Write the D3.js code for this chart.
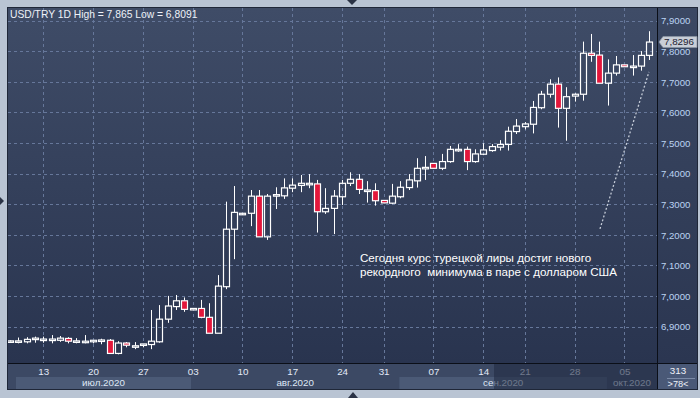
<!DOCTYPE html>
<html><head><meta charset="utf-8">
<script src="https://cdn.jsdelivr.net/npm/d3@7"></script>
<style>html,body{margin:0;padding:0;background:#b9c4d3;} svg{display:block;}</style>
</head><body><svg id="c" width="700" height="398"></svg>
<script>
// ---------- DATA ----------
const dates = ["2020-07-08","2020-07-09","2020-07-10","2020-07-12","2020-07-13","2020-07-14","2020-07-15","2020-07-16","2020-07-17","2020-07-19",
"2020-07-20","2020-07-21","2020-07-22","2020-07-23","2020-07-24","2020-07-26","2020-07-27","2020-07-28","2020-07-29","2020-07-30",
"2020-07-31","2020-08-02","2020-08-03","2020-08-04","2020-08-05","2020-08-06","2020-08-07","2020-08-09","2020-08-10","2020-08-11",
"2020-08-12","2020-08-13","2020-08-14","2020-08-16","2020-08-17","2020-08-18","2020-08-19","2020-08-20","2020-08-21","2020-08-23",
"2020-08-24","2020-08-25","2020-08-26","2020-08-27","2020-08-28","2020-08-31","2020-09-01","2020-09-02","2020-09-03","2020-09-04",
"2020-09-06","2020-09-07","2020-09-08","2020-09-09","2020-09-10","2020-09-11","2020-09-13","2020-09-14","2020-09-15","2020-09-16",
"2020-09-17","2020-09-18","2020-09-21","2020-09-22","2020-09-23","2020-09-24","2020-09-25","2020-09-27","2020-09-28","2020-09-29",
"2020-09-30","2020-10-01","2020-10-02","2020-10-04","2020-10-05","2020-10-06","2020-10-07","2020-10-08"];
const open  = [6.853,6.853,6.850,6.858,6.854,6.854,6.855,6.861,6.853,6.852,
6.850,6.856,6.855,6.812,6.846,6.837,6.839,6.841,6.850,6.924,
6.965,6.984,6.956,6.959,6.930,6.878,7.030,7.218,7.270,7.270,
7.326,7.193,7.326,7.327,7.352,7.361,7.363,7.366,7.275,7.286,
7.324,7.368,7.381,7.346,7.344,7.312,7.303,7.324,7.354,7.376,
7.416,7.433,7.417,7.439,7.475,7.479,7.439,7.463,7.475,7.486,
7.495,7.537,7.553,7.561,7.615,7.659,7.692,7.613,7.653,7.659,
7.793,7.787,7.695,7.728,7.755,7.748,7.751,7.786];
const high  = [6.855,6.864,6.865,6.867,6.867,6.872,6.869,6.865,6.862,6.872,
6.855,6.860,6.859,6.852,6.849,6.849,6.843,6.954,6.970,7.000,
7.003,6.995,6.959,6.987,6.976,7.068,7.308,7.359,7.271,7.346,
7.346,7.333,7.355,7.384,7.384,7.395,7.398,7.379,7.352,7.346,
7.379,7.404,7.398,7.375,7.368,7.313,7.366,7.375,7.398,7.450,
7.457,7.434,7.464,7.490,7.496,7.488,7.479,7.499,7.496,7.509,
7.553,7.578,7.568,7.637,7.670,7.708,7.714,7.682,7.662,7.831,
7.856,7.831,7.773,7.784,7.756,7.787,7.800,7.865];
const low   = [6.851,6.845,6.845,6.847,6.847,6.845,6.850,6.845,6.845,6.845,
6.845,6.842,6.810,6.8091,6.832,6.826,6.832,6.826,6.847,6.912,
6.954,6.948,6.954,6.927,6.878,6.878,7.022,7.120,7.269,7.228,
7.193,7.183,7.284,7.317,7.339,7.339,7.352,7.207,7.268,7.202,
7.297,7.359,7.333,7.305,7.295,7.303,7.300,7.319,7.346,7.354,
7.379,7.416,7.411,7.435,7.471,7.411,7.435,7.460,7.471,7.475,
7.475,7.529,7.544,7.531,7.610,7.648,7.550,7.507,7.635,7.638,
7.765,7.695,7.622,7.720,7.748,7.720,7.736,7.771];
const close = [6.853,6.853,6.858,6.862,6.859,6.859,6.862,6.852,6.853,6.852,
6.855,6.856,6.812,6.846,6.839,6.837,6.843,6.852,6.924,6.967,
6.984,6.956,6.959,6.930,6.878,7.032,7.218,7.273,7.270,7.326,
7.193,7.326,7.331,7.353,7.362,7.368,7.368,7.275,7.286,7.326,
7.368,7.381,7.348,7.346,7.311,7.304,7.326,7.355,7.379,7.417,
7.420,7.417,7.439,7.479,7.479,7.439,7.464,7.477,7.488,7.495,
7.538,7.555,7.562,7.616,7.659,7.692,7.613,7.651,7.659,7.793,
7.786,7.695,7.728,7.755,7.749,7.751,7.786,7.8296];
const yTicks = [6.9,7.0,7.1,7.2,7.3,7.4,7.5,7.6,7.7,7.8,7.9];
const monthNames = ["янв","фев","мар","апр","май","июн","июл","авг","сен","окт","ноя","дек"];
const titleText = "USD/TRY 1D High = 7,865 Low = 6,8091";
const noteLines = ["Сегодня курс турецкой лиры достиг нового","рекордного  минимума в паре с долларом США"];
const barCount = "313", visibleCount = ">78<";

// ---------- LAYOUT ----------
const W=700,H=398, L=8, T=8, R=657, B=363, FR=697, FB=389;
const FONT = "Liberation Sans, Arial, sans-serif";
const svg = d3.select("#c");
const parse = d3.timeParse("%Y-%m-%d");
const dts = dates.map(parse);
const fmtNum = v => v.toFixed(4).replace(".", ",");

const x = d3.scaleLinear().domain([0, dates.length-1]).range([10, 649.3]);
const y = d3.scaleLinear().domain([6.9, 7.9]).range([326.5, 20.5]);

const defs = svg.append("defs");
const g1 = defs.append("linearGradient").attr("id","bg").attr("x1",0).attr("y1",0).attr("x2",0).attr("y2",1);
g1.append("stop").attr("offset","0%").attr("stop-color","#3f4c67");
g1.append("stop").attr("offset","100%").attr("stop-color","#29344f");
const g2 = defs.append("linearGradient").attr("id","bgr").attr("x1",0).attr("y1",0).attr("x2",0).attr("y2",1);
g2.append("stop").attr("offset","0%").attr("stop-color","#3b4863");
g2.append("stop").attr("offset","100%").attr("stop-color","#2b3651");
defs.append("clipPath").attr("id","clip").append("rect").attr("x",L).attr("y",T).attr("width",R-L).attr("height",B-T);

// outer frame
svg.append("rect").attr("x",L-1).attr("y",T-1).attr("width",FR-L+2).attr("height",FB-T+2).attr("fill","#1f2738");
svg.append("rect").attr("x",L).attr("y",T).attr("width",R-L).attr("height",B-T).attr("fill","url(#bg)");
svg.append("rect").attr("x",R).attr("y",T).attr("width",FR-R).attr("height",B-T).attr("fill","url(#bgr)");
svg.append("rect").attr("x",L).attr("y",B).attr("width",FR-L).attr("height",FB-B).attr("fill","#3c4964");

// month bands (boundaries in index units)
const bandEdges = [0.72, 21.8, 46.9, 71.9, 78.0];
const bandMonths = [6,7,8,9];
bandMonths.forEach((m,k)=>{
  const x0=x(bandEdges[k]), x1=Math.min(x(bandEdges[k+1]), R);
  if (k%2===0) svg.append("rect").attr("x",x0).attr("y",377).attr("width",x1-x0).attr("height",FB-377).attr("fill","#4b5a76");
  svg.append("text").attr("x",(x0+x1)/2).attr("y",386).attr("text-anchor","middle")
    .attr("font-family",FONT).attr("font-size","9.8px").attr("fill","#dfe7f5")
    .text(monthNames[m]+".2020");
});

// grid
const mondays = d3.range(dates.length).filter(i=>dts[i].getDay()===1);
const grid = svg.append("g").attr("stroke","#66779a").attr("stroke-dasharray","3,3").attr("stroke-width",1);
yTicks.forEach(v=>{ const yy=Math.round(y(v))+0.5;
  grid.append("line").attr("x1",L).attr("x2",R).attr("y1",yy).attr("y2",yy); });
mondays.forEach(i=>{ const xx=Math.round(x(i))+0.5;
  grid.append("line").attr("x1",xx).attr("x2",xx).attr("y1",T).attr("y2",B); });

// bottom axis
const xAxis = d3.axisBottom(x).tickValues(mondays).tickSize(0).tickPadding(0)
  .tickFormat(i=>d3.timeFormat("%d")(dts[i]));
const gx = svg.append("g").attr("transform",`translate(0,${B})`).call(xAxis);
gx.select(".domain").remove();
gx.selectAll("text").attr("y",12).attr("dy",0).attr("font-family",FONT)
  .attr("font-size","9.8px").attr("fill","#e3eaf7");

// right axis
const yAxis = d3.axisRight(y).tickValues(yTicks).tickSize(0).tickPadding(4).tickFormat(fmtNum);
const gy = svg.append("g").attr("transform",`translate(${R},0)`).call(yAxis);
gy.select(".domain").remove();
gy.selectAll("text").attr("font-family",FONT).attr("font-size","9.6px")
  .attr("fill","#bcd3f2").attr("dy","0.35em");

// candles
const cg = svg.append("g").attr("clip-path","url(#clip)");
dates.forEach((d,i)=>{
  const cx = Math.round(x(i));
  const o=open[i], c=close[i], hi=high[i], lo=low[i];
  const top = y(Math.max(o,c)), bot = y(Math.min(o,c));
  let h = bot-top; if (h<1.5) h=1.5;
  const red = c<o;
  cg.append("line").attr("x1",cx+0.5).attr("x2",cx+0.5).attr("y1",y(hi)).attr("y2",top).attr("stroke","#fff").attr("stroke-width",1);
  cg.append("line").attr("x1",cx+0.5).attr("x2",cx+0.5).attr("y1",top+h).attr("y2",y(lo)).attr("stroke","#fff").attr("stroke-width",1);
  cg.append("rect").attr("x",cx-2.5).attr("y",top).attr("width",6).attr("height",h)
    .attr("fill", red ? "#e3173b" : "none").attr("stroke","#fff").attr("stroke-width",1.2);
});

// annotation
svg.append("line").attr("x1",x(71.06)).attr("y1",y(7.219)).attr("x2",x(76.96)).attr("y2",y(7.732))
  .attr("stroke","#c3cad6").attr("stroke-width",1.3).attr("stroke-dasharray","2,2");
noteLines.forEach((t,k)=>{
  svg.append("text").attr("x",x(42.15)).attr("y",261.5+k*14).attr("font-family",FONT)
    .attr("font-size","11.6px").attr("fill","#ffffff").style("white-space","pre").text(t);
});

// title
svg.append("text").attr("x",10).attr("y",18.3).attr("font-family",FONT)
  .attr("font-size","10.3px").attr("fill","#eef2f8").text(titleText);

// dim overlay on the bottom axis (scroll selection)
svg.append("rect").attr("x",x(58.3)).attr("y",B).attr("width",R-x(58.3)).attr("height",FB-B).attr("fill","#222c42").attr("opacity",0.6);

// separator lines
svg.append("line").attr("x1",L).attr("x2",FR).attr("y1",B+0.5).attr("y2",B+0.5).attr("stroke","#0b0f18").attr("stroke-width",1);
svg.append("line").attr("x1",R+0.5).attr("x2",R+0.5).attr("y1",T).attr("y2",FB).attr("stroke","#0b0f18").attr("stroke-width",1);

// bottom-right counter box
svg.append("rect").attr("x",R+1).attr("y",B+1).attr("width",FR-R-1).attr("height",FB-B-1).attr("fill","#4a5977");
svg.append("text").attr("x",(R+FR)/2+1).attr("y",374).attr("text-anchor","middle").attr("font-family",FONT)
  .attr("font-size","9.8px").attr("fill","#eef2f8").text(barCount);
svg.append("line").attr("x1",R+10).attr("x2",FR-2).attr("y1",378.5).attr("y2",378.5).attr("stroke","#7b8aa6");
svg.append("text").attr("x",(R+FR)/2+1).attr("y",387).attr("text-anchor","middle").attr("font-family",FONT)
  .attr("font-size","9.2px").attr("fill","#eef2f8").text(visibleCount);

// last price label
const lp = close[close.length-1], ly = y(lp);
svg.append("path").attr("d",`M${R+2},${ly} L${R+6},${ly-5.5} L${FR},${ly-5.5} L${FR},${ly+5.5} L${R+6},${ly+5.5} Z`)
  .attr("fill","#c9ced7").attr("stroke","#8c95a5").attr("stroke-width",0.8);
svg.append("text").attr("x",R+7).attr("y",ly).attr("dy","0.35em").attr("font-family",FONT)
  .attr("font-size","9.8px").attr("fill","#1b2130").text(fmtNum(lp));

// scroll markers
svg.append("path").attr("d","M347,0 L357,0 L352,5 Z").attr("fill","#2a3245");
svg.append("path").attr("d","M348,398 L358,398 L353,392 Z").attr("fill","#2a3245");
svg.append("path").attr("d","M0,197 L0,205 L4,201 Z").attr("fill","#2a3245");
</script></body></html>
